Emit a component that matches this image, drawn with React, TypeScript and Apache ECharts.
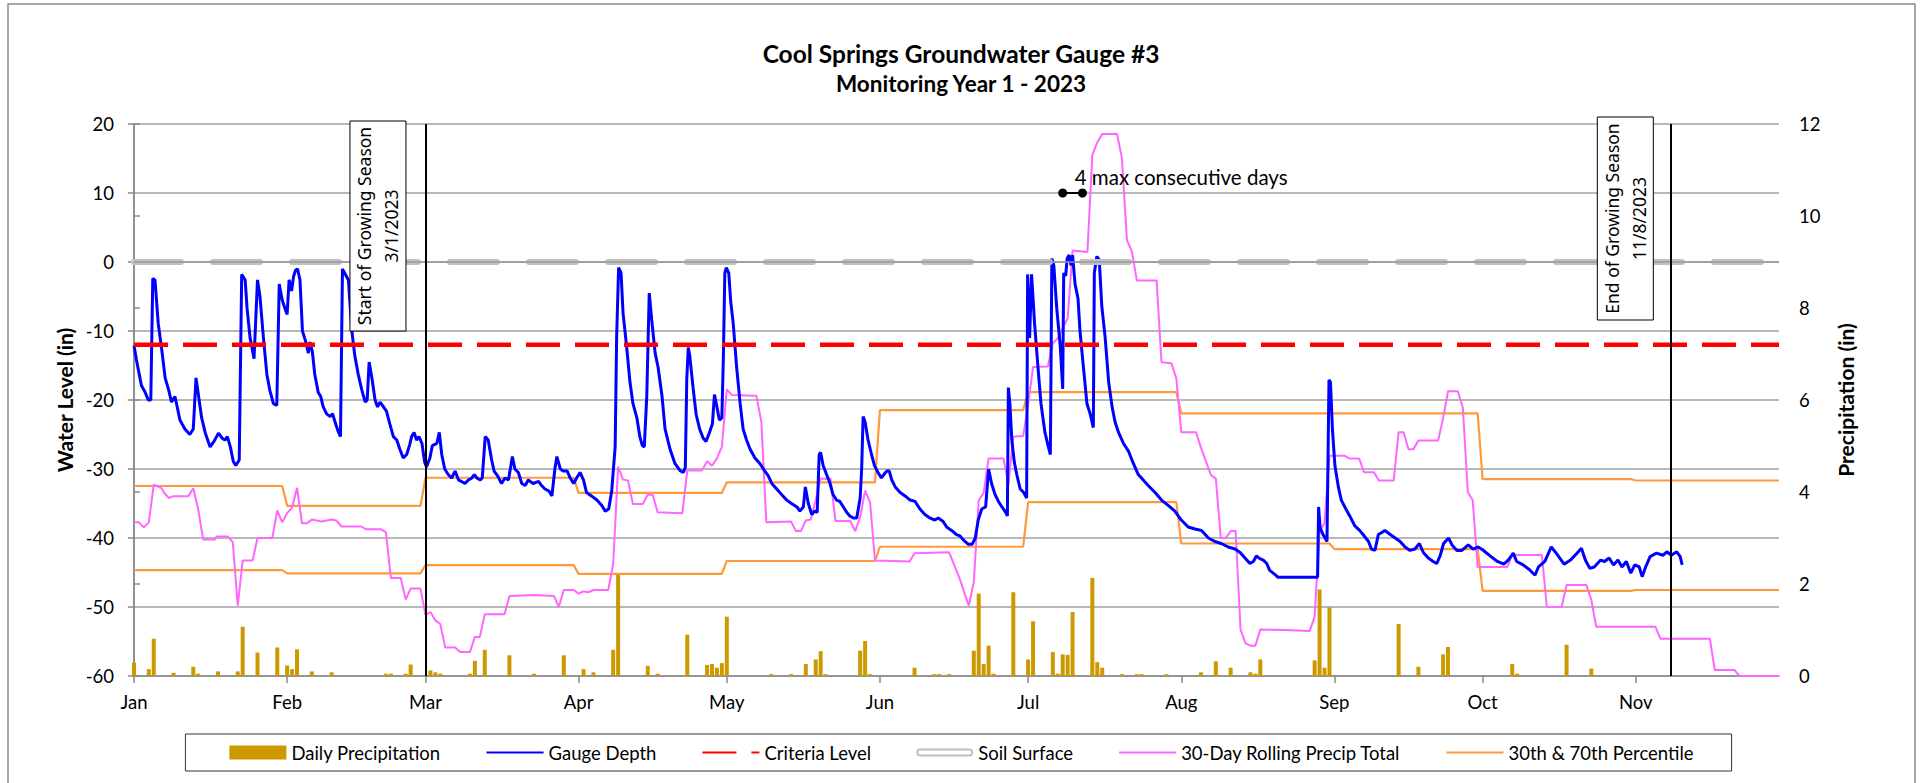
import React, { useEffect, useRef } from "react";
import * as echarts from "echarts";

// ---------- data ----------
const monthNames = ["Jan", "Feb", "Mar", "Apr", "May", "Jun", "Jul", "Aug", "Sep", "Oct", "Nov"];
const monthStartDays = [0, 31, 59, 90, 120, 151, 181, 212, 243, 273, 304];
const axisEndDay = 333; // day index of the right edge (Jan 1 = 0)

const waterLevelTicks = { min: -60, max: 20, interval: 10 };
const precipTicks = { min: 0, max: 12, interval: 2 };

const criteriaLevel = -12;
const soilSurface = 0;
const growingSeasonStart = 59; // 3/1/2023
const growingSeasonEnd = 311; // 11/8/2023
const consecutiveDays: [number, number][] = [
  [188, 10],
  [192, 10],
];

// Gauge depth: [day of year (Jan 1 = 0), water level in]
const gaugeDepth: [number, number][] = [
  [0, -12.1], [0.5, -14.2], [1.5, -17.9], [2.2, -18.8], [2.9, -20], [3.4, -20], [3.8, -2.4], [4.25, -2.6],
  [4.9, -8.9], [5.6, -12.6], [6.3, -16.8], [7, -18.5], [7.6, -20.3], [8.3, -19.5], [9.3, -22.9], [10.3, -24.2],
  [11.3, -25], [12, -24.2], [12.55, -16.8], [13.7, -22.6], [14.4, -24.7], [15.4, -26.8], [16.2, -26], [17.1, -24.8],
  [17.8, -25.5], [18.4, -25.8], [18.9, -25.3], [19.5, -26.8], [20.1, -28.9], [20.6, -29.5], [21.3, -28.7], [21.8, -1.8],
  [22.5, -2.6], [22.9, -6.8], [23.5, -11], [24.3, -14], [25, -2.6], [25.5, -5], [26.2, -11], [26.9, -16.3],
  [27.5, -18.6], [28.2, -20.5], [28.9, -20.8], [29.4, -3.2], [30, -5.5], [30.6, -6.8], [31, -7.6], [31.4, -2.6],
  [31.9, -4.2], [32.3, -2.1], [32.7, -1.2], [33.1, -1], [33.6, -2.6], [34.1, -10], [34.7, -11.4], [35.3, -13.2],
  [35.6, -11.6], [36.1, -13], [36.6, -16.3], [37.3, -18.9], [37.8, -19.5], [38.3, -21], [39, -22], [39.7, -22.4],
  [40.2, -22], [40.7, -23.2], [41.3, -24.5], [41.8, -25.3], [42.2, -1], [42.8, -1.8], [43.4, -2.6], [44.1, -10],
  [44.7, -13.6], [45.4, -16.3], [46.1, -18.5], [46.8, -20.3], [47.2, -20], [47.6, -14.5], [48.2, -17], [48.8, -20],
  [49.3, -21], [49.8, -20.3], [50.5, -21], [51.1, -21.6], [51.8, -23.5], [52.5, -25.3], [53.2, -25.8], [53.8, -27.1],
  [54.5, -28.4], [55.2, -27.9], [55.8, -26.5], [56.2, -25.3], [56.7, -24.7], [57.2, -25.8], [57.7, -25.3], [58.3, -26.3],
  [58.8, -28.9], [59.2, -29.7], [59.9, -28.4], [60.4, -26.6], [61.3, -26.3], [61.8, -24.7], [62.3, -27.9], [62.9, -30],
  [63.6, -30.8], [64.3, -31.3], [65, -30.3], [65.7, -31.6], [66.3, -31.8], [67, -32.1], [67.7, -31.6], [68.4, -31.3],
  [68.9, -30.8], [69.4, -31.3], [70.1, -31.6], [70.5, -31.3], [71.1, -25.3], [71.7, -25.8], [72.4, -28.7], [72.9, -30.3],
  [73.6, -31], [74.4, -32.1], [75.1, -31.3], [75.8, -31.6], [76.6, -28.2], [77.1, -30], [77.8, -30.5], [78.5, -32.1],
  [79.2, -32.4], [79.8, -31.6], [80.8, -32.1], [81.9, -31.8], [82.5, -32.4], [83.2, -32.9], [84, -33.2], [84.6, -33.9],
  [85.2, -30], [85.6, -28.2], [86.3, -30], [86.9, -30.3], [87.7, -30.3], [88.3, -31.3], [89, -32.1], [89.6, -31.3],
  [90.3, -30.5], [91, -31.6], [91.6, -33.4], [92.6, -33.9], [93.7, -34.5], [94.7, -35.3], [95.4, -36.1], [96.1, -35.8],
  [96.7, -33.2], [97.4, -26.8], [97.7, -11], [98.1, -0.8], [98.6, -1.6], [99, -7.4], [99.7, -12.1], [100.4, -17.4],
  [101, -20.5], [101.8, -22.6], [102.4, -25.3], [102.9, -26.6], [103.3, -26.8], [103.8, -19.5], [104.3, -4.5], [104.8, -8.4],
  [105.5, -13.2], [106.1, -15.3], [106.9, -19.5], [107.5, -24.2], [108.5, -27.1], [109.5, -29.2], [110.5, -30.2], [111.2, -30.5],
  [111.6, -29.8], [111.9, -17], [112.2, -12.4], [112.5, -13.6], [113.2, -18.4], [113.8, -22.1], [114.5, -24.2], [115.2, -25.5],
  [115.8, -26], [116.5, -24.7], [117.1, -23.4], [117.5, -19.2], [118, -21], [118.5, -22.9], [119, -22.6], [119.3, -14],
  [119.6, -1.6], [119.9, -0.8], [120.4, -1.6], [120.8, -5.8], [121.3, -8.9], [122, -15.3], [122.7, -20.5], [123.3, -24.2],
  [124, -25.8], [124.7, -27.1], [125.7, -28.4], [126.7, -29.2], [127.7, -30.3], [128.4, -31], [129.1, -32.1], [130.1, -32.9],
  [131.1, -33.7], [132.1, -34.5], [133.1, -35], [134.2, -35.5], [134.8, -36.1], [135.5, -35.5], [135.9, -32.6], [136.5, -35],
  [137.2, -36.6], [137.8, -36.1], [138.3, -36.3], [138.7, -27.9], [139, -27.6], [139.5, -29.5], [140.2, -30.8], [140.9, -32.1],
  [141.5, -33.7], [142.2, -34.5], [142.9, -34.7], [143.6, -35.5], [144.3, -36.3], [144.9, -36.8], [145.6, -37.1], [146.3, -37.1],
  [147, -34.2], [147.3, -30], [147.6, -22.4], [148, -23.2], [148.6, -25.8], [149.3, -27.9], [149.9, -29.5], [150.6, -30.5],
  [151.3, -31.3], [151.8, -30.8], [152.4, -30.3], [152.9, -30.3], [153.4, -31.6], [154.1, -32.6], [155.1, -33.4], [156.1, -33.9],
  [157.1, -34.5], [158.1, -34.7], [159.1, -35.8], [160.1, -36.6], [161.1, -37.1], [162.1, -37.4], [162.8, -37.1], [163.8, -37.6],
  [164.5, -38.4], [165.5, -38.9], [166.5, -39.5], [167.2, -39.7], [168.2, -40.5], [168.9, -40.9], [169.7, -40.9], [170.3, -40],
  [170.9, -37.4], [171.6, -35.8], [172.4, -35.5], [173, -30], [173.6, -32.1], [174.3, -33.7], [175, -34.7], [175.7, -35.5],
  [176.3, -36.1], [176.8, -36.8], [177, -18.2], [177.3, -20.5], [177.7, -25.8], [178.2, -29], [178.7, -30.8], [179.4, -32.9],
  [180.1, -33.4], [180.7, -34.2], [180.9, -1.8], [181.3, -11], [181.7, -1.8], [182.3, -8.9], [183, -15.3], [183.6, -20.5],
  [184.4, -24.7], [185.1, -26.8], [185.5, -27.9], [185.8, 0.5], [186.2, -0.5], [186.8, -6.8], [187.5, -12.1], [188, -18.4],
  [188.2, -1.6], [188.6, -2], [188.9, 0.5], [189.3, 1], [189.7, -0.5], [190, 1], [190.5, -3.2], [191.1, -5.3],
  [191.5, -10], [192.2, -15.3], [192.9, -20.5], [193.6, -22.1], [194.2, -24], [194.4, -1.6], [194.9, 0.8], [195.4, 0.3],
  [195.9, -6.3], [196.6, -11], [197.3, -17.4], [198, -21], [198.6, -23.2], [199.3, -24.7], [200.3, -26.3], [201.3, -27.4],
  [202.3, -29.2], [203.3, -30.8], [204.3, -31.6], [205.3, -32.4], [206.7, -33.4], [208, -34.5], [209.4, -35.3], [210.7, -36.1],
  [212, -37.4], [213.4, -38.4], [214.8, -38.7], [216.1, -38.9], [217.5, -40], [218.8, -40.5], [220.1, -40.8], [221.5, -41.3],
  [222.9, -41.6], [223.9, -42.1], [224.9, -42.9], [225.9, -43.7], [226.6, -43.4], [227.2, -42.6], [227.9, -43], [228.6, -43.2],
  [229.3, -43.7], [229.9, -44.7], [231, -45.3], [231.6, -45.7], [239.6, -45.7], [239.8, -35.5], [240.1, -38.5], [240.7, -39.5],
  [241.5, -40.5], [241.9, -17.1], [242.2, -17.4], [242.6, -24.2], [243.1, -29.5], [243.8, -32.6], [244.4, -34.5], [245.1, -35.5],
  [246.1, -36.8], [247.1, -38.2], [248.1, -38.9], [248.8, -39.5], [249.9, -40.5], [250.5, -41.6], [251.2, -41.8], [251.9, -39.5],
  [252.6, -39.2], [253.2, -38.9], [254.3, -39.5], [255.3, -40], [256.3, -40.5], [257.3, -41.3], [258.3, -41.8], [259.3, -41.6],
  [260.2, -40.8], [261, -42.1], [262, -42.9], [263, -43.4], [263.7, -43.7], [264.4, -42.6], [265.1, -40.8], [266.1, -40],
  [266.8, -41], [267.8, -41.8], [268.8, -41.8], [270.1, -41], [271.1, -41.6], [272.1, -41.3], [273, -41.7], [274.7, -42.7],
  [276, -43.4], [277.3, -43.8], [278.2, -43.2], [279.2, -42.2], [279.9, -43.4], [281.2, -43.9], [282.5, -44.6], [283.6, -45.4],
  [284.3, -44.2], [285.6, -43.4], [286.9, -41.3], [287.9, -42.2], [289.5, -43.8], [290.8, -43.2], [292.1, -42.2], [293, -41.5],
  [293.8, -43.2], [294.7, -44.4], [295.6, -44.2], [296.9, -43.2], [297.7, -43.4], [298.6, -42.9], [299.5, -43.9], [300.4, -43.2],
  [301.2, -44.2], [302.1, -43.4], [303, -45.1], [303.8, -43.9], [304.7, -44.2], [305.3, -45.6], [306, -44.2], [306.9, -42.7],
  [308.2, -42.2], [309.5, -42.5], [310.3, -42], [311.2, -42.5], [312.3, -42], [313, -42.7], [313.4, -43.9],
];

// Daily precipitation: [day, inches]
const dailyPrecip: [number, number][] = [
  [0, 0.29], [3, 0.15], [4, 0.81], [8, 0.07], [12, 0.2], [13, 0.05], [17, 0.1], [21, 0.1], [22, 1.07], [25, 0.51],
  [29, 0.62], [31, 0.23], [32, 0.15], [33, 0.58], [36, 0.1], [40, 0.08], [51, 0.05], [52, 0.05], [55, 0.05], [56, 0.25],
  [60, 0.12], [61, 0.08], [62, 0.05], [68, 0.05], [69, 0.33], [71, 0.57], [76, 0.45], [81, 0.05], [87, 0.45], [91, 0.15],
  [93, 0.08], [97, 0.57], [98, 2.22], [104, 0.22], [106, 0.05], [112, 0.9], [116, 0.24], [117, 0.26], [118, 0.18], [119, 0.28],
  [120, 1.29], [129, 0.04], [133, 0.04], [136, 0.26], [138, 0.36], [139, 0.54], [140, 0.04], [147, 0.55], [148, 0.76], [149, 0.04],
  [158, 0.18], [162, 0.04], [163, 0.04], [165, 0.04], [170, 0.55], [171, 1.79], [172, 0.26], [173, 0.66], [174, 0.05], [178, 1.82],
  [181, 0.36], [182, 1.19], [186, 0.52], [187, 0.05], [188, 0.47], [189, 0.46], [190, 1.39], [194, 2.13], [195, 0.3], [196, 0.18],
  [200, 0.04], [203, 0.04], [204, 0.04], [209, 0.04], [216, 0.08], [219, 0.32], [222, 0.18], [226, 0.08], [227, 0.05], [228, 0.36],
  [239, 0.34], [240, 1.88], [241, 0.18], [242, 1.49], [256, 1.13], [260, 0.2], [265, 0.47], [266, 0.63], [279, 0.26], [280, 0.05],
  [290, 0.68], [295, 0.16],
];

// 30-day rolling precipitation total: [day, inches]
const rollingPrecip: [number, number][] = [
  [0, 3.34], [1, 3.34], [2, 3.23], [3, 3.34], [4, 4.16], [5.6, 4.08], [6, 4.0], [7, 3.87], [8, 3.91], [11, 3.91],
  [12, 4.08], [13, 3.62], [14, 2.97], [16.4, 2.97], [16.7, 3.03], [19, 3.03], [20, 2.91], [21, 1.53], [22, 2.51], [24, 2.51],
  [25, 3.0], [28, 3.0], [29, 3.6], [30, 3.34], [31, 3.54], [32, 3.66], [33, 4.09], [34, 3.32], [35, 3.32], [36, 3.4],
  [37, 3.38], [38, 3.36], [40, 3.4], [41, 3.38], [42, 3.25], [46, 3.25], [47, 3.19], [50, 3.19], [51, 3.13], [52, 2.13],
  [54, 2.13], [55, 1.66], [56, 1.9], [58, 1.9], [59, 1.33], [60, 1.39], [61, 1.21], [62, 1.13], [63, 0.62], [65, 0.62],
  [66, 0.52], [68, 0.52], [69, 0.85], [70, 0.85], [71, 1.34], [75, 1.34], [76, 1.74], [81, 1.76], [85, 1.74], [86, 1.5],
  [87, 1.87], [89, 1.87], [90, 1.79], [91, 1.84], [92, 1.82], [93, 1.87], [96, 1.87], [97, 2.43], [98, 4.55], [99, 4.27],
  [100, 4.25], [101, 3.74], [103, 3.74], [104, 3.94], [105, 3.94], [106, 3.56], [111, 3.54], [112, 4.47], [115, 4.47], [116, 4.67],
  [117, 4.57], [118, 4.73], [119, 4.98], [120, 6.23], [121, 6.11], [126, 6.09], [127, 5.52], [128, 3.34], [133, 3.36], [134, 3.15],
  [135, 3.15], [136, 3.38], [137, 3.4], [138, 3.82], [139, 4.29], [141, 4.29], [142, 3.37], [145, 3.37], [146, 3.15], [147, 3.46],
  [148, 4.03], [149, 3.78], [150, 2.51], [157, 2.49], [158, 2.67], [165, 2.69], [166, 2.42], [167, 2.16], [168, 1.84], [169, 1.53],
  [170, 2.04], [171, 3.82], [172, 3.98], [173, 4.73], [176, 4.73], [177, 4.17], [178, 5.2], [180, 5.22], [181, 5.91], [182, 6.72],
  [185, 6.73], [186, 7.24], [187, 7.34], [188, 7.57], [189, 7.77], [190, 9.25], [193, 9.22], [194, 11.33], [195, 11.6], [196, 11.78],
  [199, 11.78], [200, 11.25], [201, 9.47], [202, 9.23], [203, 8.6], [207, 8.6], [208, 6.82], [210, 6.8], [211, 6.47], [212, 5.3],
  [215, 5.3], [216, 4.96], [218, 4.37], [219, 4.29], [220, 3.0], [221, 3.0], [222, 3.15], [223, 3.15], [224, 1.01], [225, 0.71],
  [226, 0.66], [227, 0.66], [228, 1.01], [233, 1.0], [238, 0.98], [239, 1.29], [240, 3.15], [241, 3.32], [242, 4.79], [245, 4.79],
  [246, 4.73], [248, 4.73], [249, 4.43], [251, 4.43], [252, 4.25], [255, 4.25], [256, 5.3], [257, 5.3], [258, 4.93], [259, 4.93],
  [260, 5.12], [264, 5.12], [265, 5.6], [266, 6.19], [268, 6.19], [269, 5.83], [270, 4.0], [271, 3.82], [272, 2.37], [278, 2.37],
  [279, 2.63], [285, 2.63], [286, 1.5], [289, 1.5], [290, 1.98], [294, 1.98], [295, 1.66], [296, 1.07], [308, 1.07], [309, 0.81],
  [319, 0.81], [320, 0.13], [324, 0.13], [325, 0], [333, 0],
];

// Monthly 70th / 30th percentile of the 30-day rolling total (Jan..Nov)
const percentile70 = [4.13, 3.7, 4.31, 3.98, 4.21, 5.78, 6.17, 5.71, 5.71, 4.28, 4.25];
const percentile30 = [2.3, 2.23, 2.41, 2.22, 2.5, 2.81, 3.78, 2.88, 2.76, 1.85, 1.87];

// ---------- styling ----------
const FONT = 'Lato, "Noto Sans", sans-serif';
const BOX_FONT = '"Noto Sans", "Open Sans", sans-serif';
const GRID_COLOR = "#a0a0a0";
const AXIS_COLOR = "#8a8a8a";

function monthlySteps(values: number[]): [number, number][] {
  const pts: [number, number][] = [];
  values.forEach((v, i) => {
    const start = monthStartDays[i];
    const end = i + 1 < monthStartDays.length ? monthStartDays[i + 1] - 1 : axisEndDay;
    pts.push([start, v], [end, v]);
  });
  return pts;
}

const soilIcon =
  "path://M28,-3L28.01,-3L28,-2.99Z M28,11L28.01,11L28,10.99Z " +
  "M4,0H53A4,4,0,0,1,53,8H4A4,4,0,0,1,4,0Z M4,2A2,2,0,0,0,4,6H53A2,2,0,0,0,53,2Z";

const noDot = { itemStyle: { opacity: 0 } };

export default function App() {
  const ref = useRef<HTMLDivElement>(null);

  useEffect(() => {
    if (!ref.current) return;
    const chart = echarts.init(ref.current, undefined, { renderer: "svg" });

    const option: any = {
      animation: false,
      backgroundColor: "#ffffff",
      textStyle: { fontFamily: FONT },
      grid: { left: 134, top: 124, width: 1645, height: 552, containLabel: false },
      legend: {
        data: [
          { name: "Daily Precipitation", icon: "rect" },
          { name: "Gauge Depth", ...noDot },
          { name: "Criteria Level", ...noDot },
          { name: "Soil Surface", icon: soilIcon },
          { name: "30-Day Rolling Precip Total", ...noDot },
          { name: "30th & 70th Percentile", ...noDot },
        ],
        left: "center",
        top: 734,
        itemWidth: 57,
        itemHeight: 14,
        itemGap: 45,
        padding: [9, 38, 9, 44],
        borderColor: "#333",
        borderWidth: 1,
        selectedMode: false,
        textStyle: { fontFamily: FONT, fontSize: 18.5, color: "#000" },
      },
      xAxis: {
        type: "value",
        min: 0,
        max: axisEndDay,
        splitLine: { show: false },
        axisLine: { show: true, onZero: false, lineStyle: { color: AXIS_COLOR, width: 1.5 } },
        axisTick: { show: true, customValues: monthStartDays, length: 7, lineStyle: { color: AXIS_COLOR, width: 1.5 } },
        axisLabel: {
          customValues: monthStartDays,
          formatter: (v: number) => monthNames[monthStartDays.indexOf(Math.round(v))] ?? "",
          margin: 16,
          color: "#000",
          fontFamily: FONT,
          fontSize: 18.5,
        },
      },
      yAxis: [
        {
          type: "value",
          min: waterLevelTicks.min,
          max: waterLevelTicks.max,
          interval: waterLevelTicks.interval,
          name: "Water Level (in)",
          nameLocation: "middle",
          nameRotate: 90,
          nameGap: 58,
          nameTextStyle: { fontFamily: FONT, fontWeight: "bold", fontSize: 21, color: "#000" },
          axisLine: { show: true, onZero: false, lineStyle: { color: AXIS_COLOR, width: 1.5 } },
          axisTick: { show: true, length: 6, lineStyle: { color: AXIS_COLOR, width: 1.5 } },
          axisLabel: { margin: 20, color: "#000", fontFamily: FONT, fontSize: 18.5 },
          splitLine: { show: true, lineStyle: { color: GRID_COLOR, width: 1.5 } },
        },
        {
          type: "value",
          position: "right",
          min: precipTicks.min,
          max: precipTicks.max,
          interval: precipTicks.interval,
          name: "Precipitation (in)",
          nameLocation: "middle",
          nameRotate: 90,
          nameGap: 56,
          nameTextStyle: { fontFamily: FONT, fontWeight: "bold", fontSize: 21, color: "#000" },
          axisLine: { show: true, lineStyle: { color: AXIS_COLOR, width: 1.5 } },
          axisTick: { show: true, length: 6, lineStyle: { color: AXIS_COLOR, width: 1.5 } },
          axisLabel: { margin: 20, color: "#000", fontFamily: FONT, fontSize: 18.5 },
          splitLine: { show: false },
        },
      ],
      series: [
        {
          name: "Daily Precipitation",
          type: "bar",
          yAxisIndex: 1,
          barWidth: 4,
          itemStyle: { color: "#cc9900" },
          data: dailyPrecip,
        },
        {
          name: "30th & 70th Percentile",
          type: "line",
          yAxisIndex: 1,
          symbol: "none",
          lineStyle: { color: "#ff9a3c", width: 2.2 },
          itemStyle: { color: "#ff9a3c" },
          data: monthlySteps(percentile70),
        },
        {
          name: "30th & 70th Percentile",
          type: "line",
          yAxisIndex: 1,
          symbol: "none",
          lineStyle: { color: "#ff9a3c", width: 2.2 },
          itemStyle: { color: "#ff9a3c" },
          data: monthlySteps(percentile30),
        },
        {
          name: "30-Day Rolling Precip Total",
          type: "line",
          yAxisIndex: 1,
          symbol: "none",
          lineStyle: { color: "#ff66ff", width: 2 },
          itemStyle: { color: "#ff66ff" },
          data: rollingPrecip,
        },
        {
          name: "Gauge Depth",
          type: "line",
          yAxisIndex: 0,
          symbol: "none",
          lineStyle: { color: "#0000ff", width: 3 },
          itemStyle: { color: "#0000ff" },
          data: gaugeDepth,
        },
        {
          name: "Soil Surface",
          type: "line",
          yAxisIndex: 0,
          symbol: "none",
          lineStyle: { color: "#c0c0c0", width: 6, type: [47, 32], cap: "round" },
          itemStyle: { color: "#c0c0c0" },
          data: [
            [0, soilSurface],
            [axisEndDay, soilSurface],
          ],
        },
        {
          name: "soilCenter",
          type: "line",
          yAxisIndex: 0,
          symbol: "none",
          silent: true,
          lineStyle: { color: "#9a9a9a", width: 1.3 },
          data: [
            [0, soilSurface],
            [axisEndDay, soilSurface],
          ],
        },
        {
          name: "Criteria Level",
          type: "line",
          yAxisIndex: 0,
          symbol: "none",
          lineStyle: { color: "#ff0000", width: 4.5, type: [34, 15] },
          itemStyle: { color: "#ff0000" },
          data: [
            [0, criteriaLevel],
            [axisEndDay, criteriaLevel],
          ],
          markLine: {
            silent: true,
            symbol: "none",
            label: { show: false },
            lineStyle: { color: "#000000", width: 2, type: "solid" },
            data: [{ xAxis: growingSeasonStart }, { xAxis: growingSeasonEnd }],
          },
        },
        {
          name: "consecutive",
          type: "line",
          yAxisIndex: 0,
          symbol: "circle",
          symbolSize: 9,
          showSymbol: true,
          lineStyle: { color: "#000", width: 2 },
          itemStyle: { color: "#000" },
          data: consecutiveDays,
          z: 5,
        },
      ],
    };

    chart.setOption(option);

    const px = (d: number, v: number) =>
      chart.convertToPixel({ xAxisIndex: 0, yAxisIndex: 0 }, [d, v]) as number[];
    const top = px(0, waterLevelTicks.max)[1];
    const startX = px(growingSeasonStart, 0)[0];
    const endX = px(growingSeasonEnd, 0)[0];
    const ann = px(consecutiveDays[0][0], consecutiveDays[0][1]);

    const seasonBox = (lineX: number, gap: number, y0: number, h: number, text: string) => {
      const w = 56;
      const x = lineX - gap - w;
      return [
        {
          type: "rect",
          shape: { x, y: y0, width: w, height: h },
          style: { fill: "#fff", stroke: "#000", lineWidth: 1 },
          z: 10,
        },
        {
          type: "text",
          x: x + w / 2,
          y: y0 + h / 2,
          rotation: Math.PI / 2,
          style: {
            text,
            fill: "#000",
            font: `17.5px ${BOX_FONT}`,
            align: "center",
            verticalAlign: "middle",
            lineHeight: 27,
          },
          z: 11,
        },
      ];
    };

    chart.setOption({
      graphic: [
        {
          type: "rect",
          shape: { x: 8, y: 4, width: 1907, height: 820 },
          style: { fill: "none", stroke: "#8c8c8c", lineWidth: 1.5 },
          silent: true,
        },
        {
          type: "text",
          x: 961,
          y: 53,
          style: {
            text: "Cool Springs Groundwater Gauge #3",
            fill: "#000",
            font: `bold 24.5px ${FONT}`,
            align: "center",
            verticalAlign: "middle",
          },
        },
        {
          type: "text",
          x: 961,
          y: 83,
          style: {
            text: "Monitoring Year 1 - 2023",
            fill: "#000",
            font: `bold 22.5px ${FONT}`,
            align: "center",
            verticalAlign: "middle",
          },
        },
        ...seasonBox(startX, 19.5, top - 3, 210, "Start of Growing Season\n3/1/2023"),
        ...seasonBox(endX, 17, top - 7, 203, "End of Growing Season\n11/8/2023"),
        {
          type: "text",
          x: ann[0] + 12,
          y: ann[1] - 16,
          style: {
            text: "4 max consecutive days",
            fill: "#000",
            font: `20.5px ${FONT}`,
            align: "left",
            verticalAlign: "middle",
          },
          z: 12,
        },
      ],
    });

    return () => chart.dispose();
  }, []);

  return (
    <div
      ref={ref}
      style={{ position: "absolute", left: 0, top: 0, width: 1923, height: 783 }}
    />
  );
}
